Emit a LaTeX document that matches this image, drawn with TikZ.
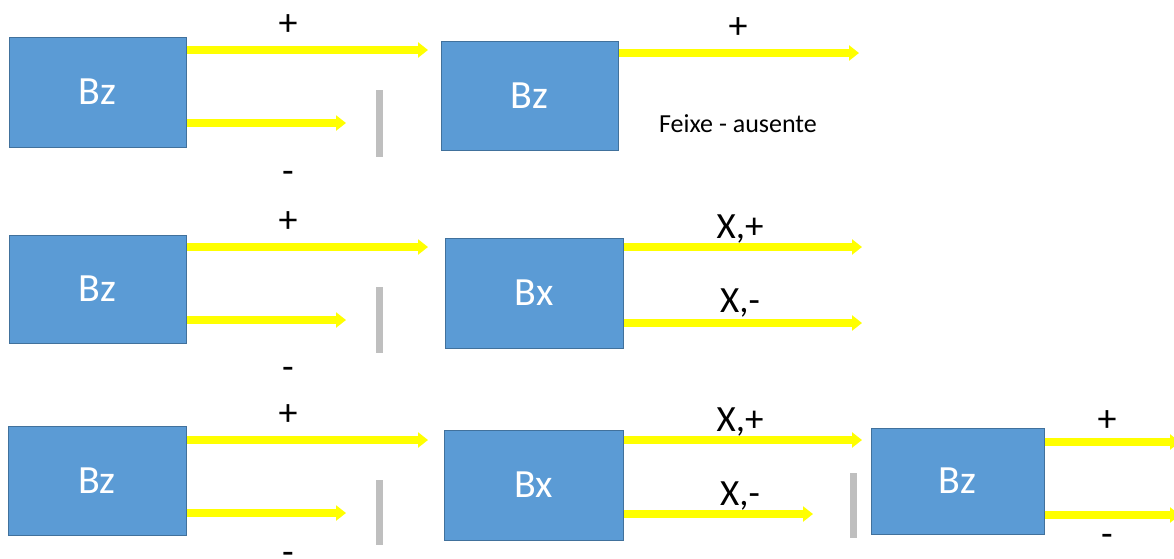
\documentclass[tikz,border=0pt]{standalone}
\usepackage{fontspec}
\setmainfont{Carlito}
\usetikzlibrary{arrows.meta}
\definecolor{boxblue}{HTML}{5B9BD5}
\definecolor{boxedge}{HTML}{41719C}
\definecolor{beamyellow}{HTML}{FFFF00}
\definecolor{stopgray}{HTML}{BFBFBF}
\begin{document}
\begin{tikzpicture}[x=1pt,y=-1pt,
  magnet/.style={draw=boxedge, line width=1pt, fill=boxblue, text=white,
    inner sep=0pt, font=\fontsize{40}{48}\selectfont},
  stopper/.style={fill=stopgray, draw=none, inner sep=0pt, minimum width=7pt},
  beam/.style={draw=beamyellow, line width=8pt,
    -{Triangle[length=10pt,width=15pt]}},
  sign/.style={inner sep=0pt, font=\fontsize{38}{44}\selectfont},
  spin/.style={inner sep=0pt, font=\fontsize{37}{44}\selectfont},
  note/.style={inner sep=0pt, font=\fontsize{26}{30}\selectfont}]
\useasboundingbox (0,0) rectangle (1174,558);

% ---- row 1: Bz, then Bz on the + beam ----
\node[magnet, minimum width=177pt, minimum height=110pt] (z1) at (97.5,92) {Bz};
\node[magnet, minimum width=177pt, minimum height=109pt] (z2) at (529.5,95.5) {Bz};
\node[stopper, minimum height=67pt] (s1) at (379.5,123.5) {};
\coordinate (t1) at (428,50);
\coordinate (b1) at (346,123);
\coordinate (t2) at (859,53);
\draw[beam] (z1.east |- t1) -- (t1);
\draw[beam] (z1.east |- b1) -- (b1);
\draw[beam] (z2.east |- t2) -- (t2);
\node[sign] (p1) at (288,25) {+};
\node[sign] (m1) at (288,177) {-};
\node[sign] (p2) at (738,28) {+};
\node[note] (f1) at (738,124) {Feixe - ausente};

% ---- row 2: Bz, then Bx on the + beam ----
\node[magnet, minimum width=177pt, minimum height=108pt] (z3) at (97.5,289) {Bz};
\node[magnet, minimum width=178pt, minimum height=110pt] (x1) at (534,293) {Bx};
\node[stopper, minimum height=66pt] (s2) at (379,320) {};
\coordinate (t3) at (428,247);
\coordinate (b3) at (346,320);
\coordinate (t4) at (862,247);
\coordinate (b4) at (862,323);
\draw[beam] (z3.east |- t3) -- (t3);
\draw[beam] (z3.east |- b3) -- (b3);
\draw[beam] (x1.east |- t4) -- (t4);
\draw[beam] (x1.east |- b4) -- (b4);
\node[sign] (p3) at (288,222) {+};
\node[sign] (m3) at (288,373) {-};
\node[spin] (xp1) at (740,229) {X,+};
\node[spin] (xm1) at (740,303) {X,-};

% ---- row 3: Bz, Bx, then Bz on the X,+ beam ----
\node[magnet, minimum width=178pt, minimum height=109pt] (z4) at (97,480.5) {Bz};
\node[magnet, minimum width=179pt, minimum height=110pt] (x2) at (533.5,485) {Bx};
\node[magnet, minimum width=173pt, minimum height=106pt] (z5) at (957.5,481) {Bz};
\node[stopper, minimum height=65pt] (s3) at (379,512.5) {};
\node[stopper, minimum height=65pt] (s4) at (853.5,505.5) {};
\coordinate (t5) at (428,440);
\coordinate (b5) at (346,513);
\coordinate (t6) at (862,440);
\coordinate (b6) at (813,514);
\coordinate (t7) at (1180,442);
\coordinate (b7) at (1180,515);
\draw[beam] (z4.east |- t5) -- (t5);
\draw[beam] (z4.east |- b5) -- (b5);
\draw[beam] (x2.east |- t6) -- (t6);
\draw[beam] (x2.east |- b6) -- (b6);
\draw[beam] (z5.east |- t7) -- (t7);
\draw[beam] (z5.east |- b7) -- (b7);
\node[sign] (p5) at (288,415) {+};
\node[sign] (m5) at (288,558) {-};
\node[spin] (xp2) at (740,422) {X,+};
\node[spin] (xm2) at (740,496) {X,-};
\node[sign] (p7) at (1107,421) {+};
\node[sign] (m7) at (1107,540) {-};
\end{tikzpicture}
\end{document}
